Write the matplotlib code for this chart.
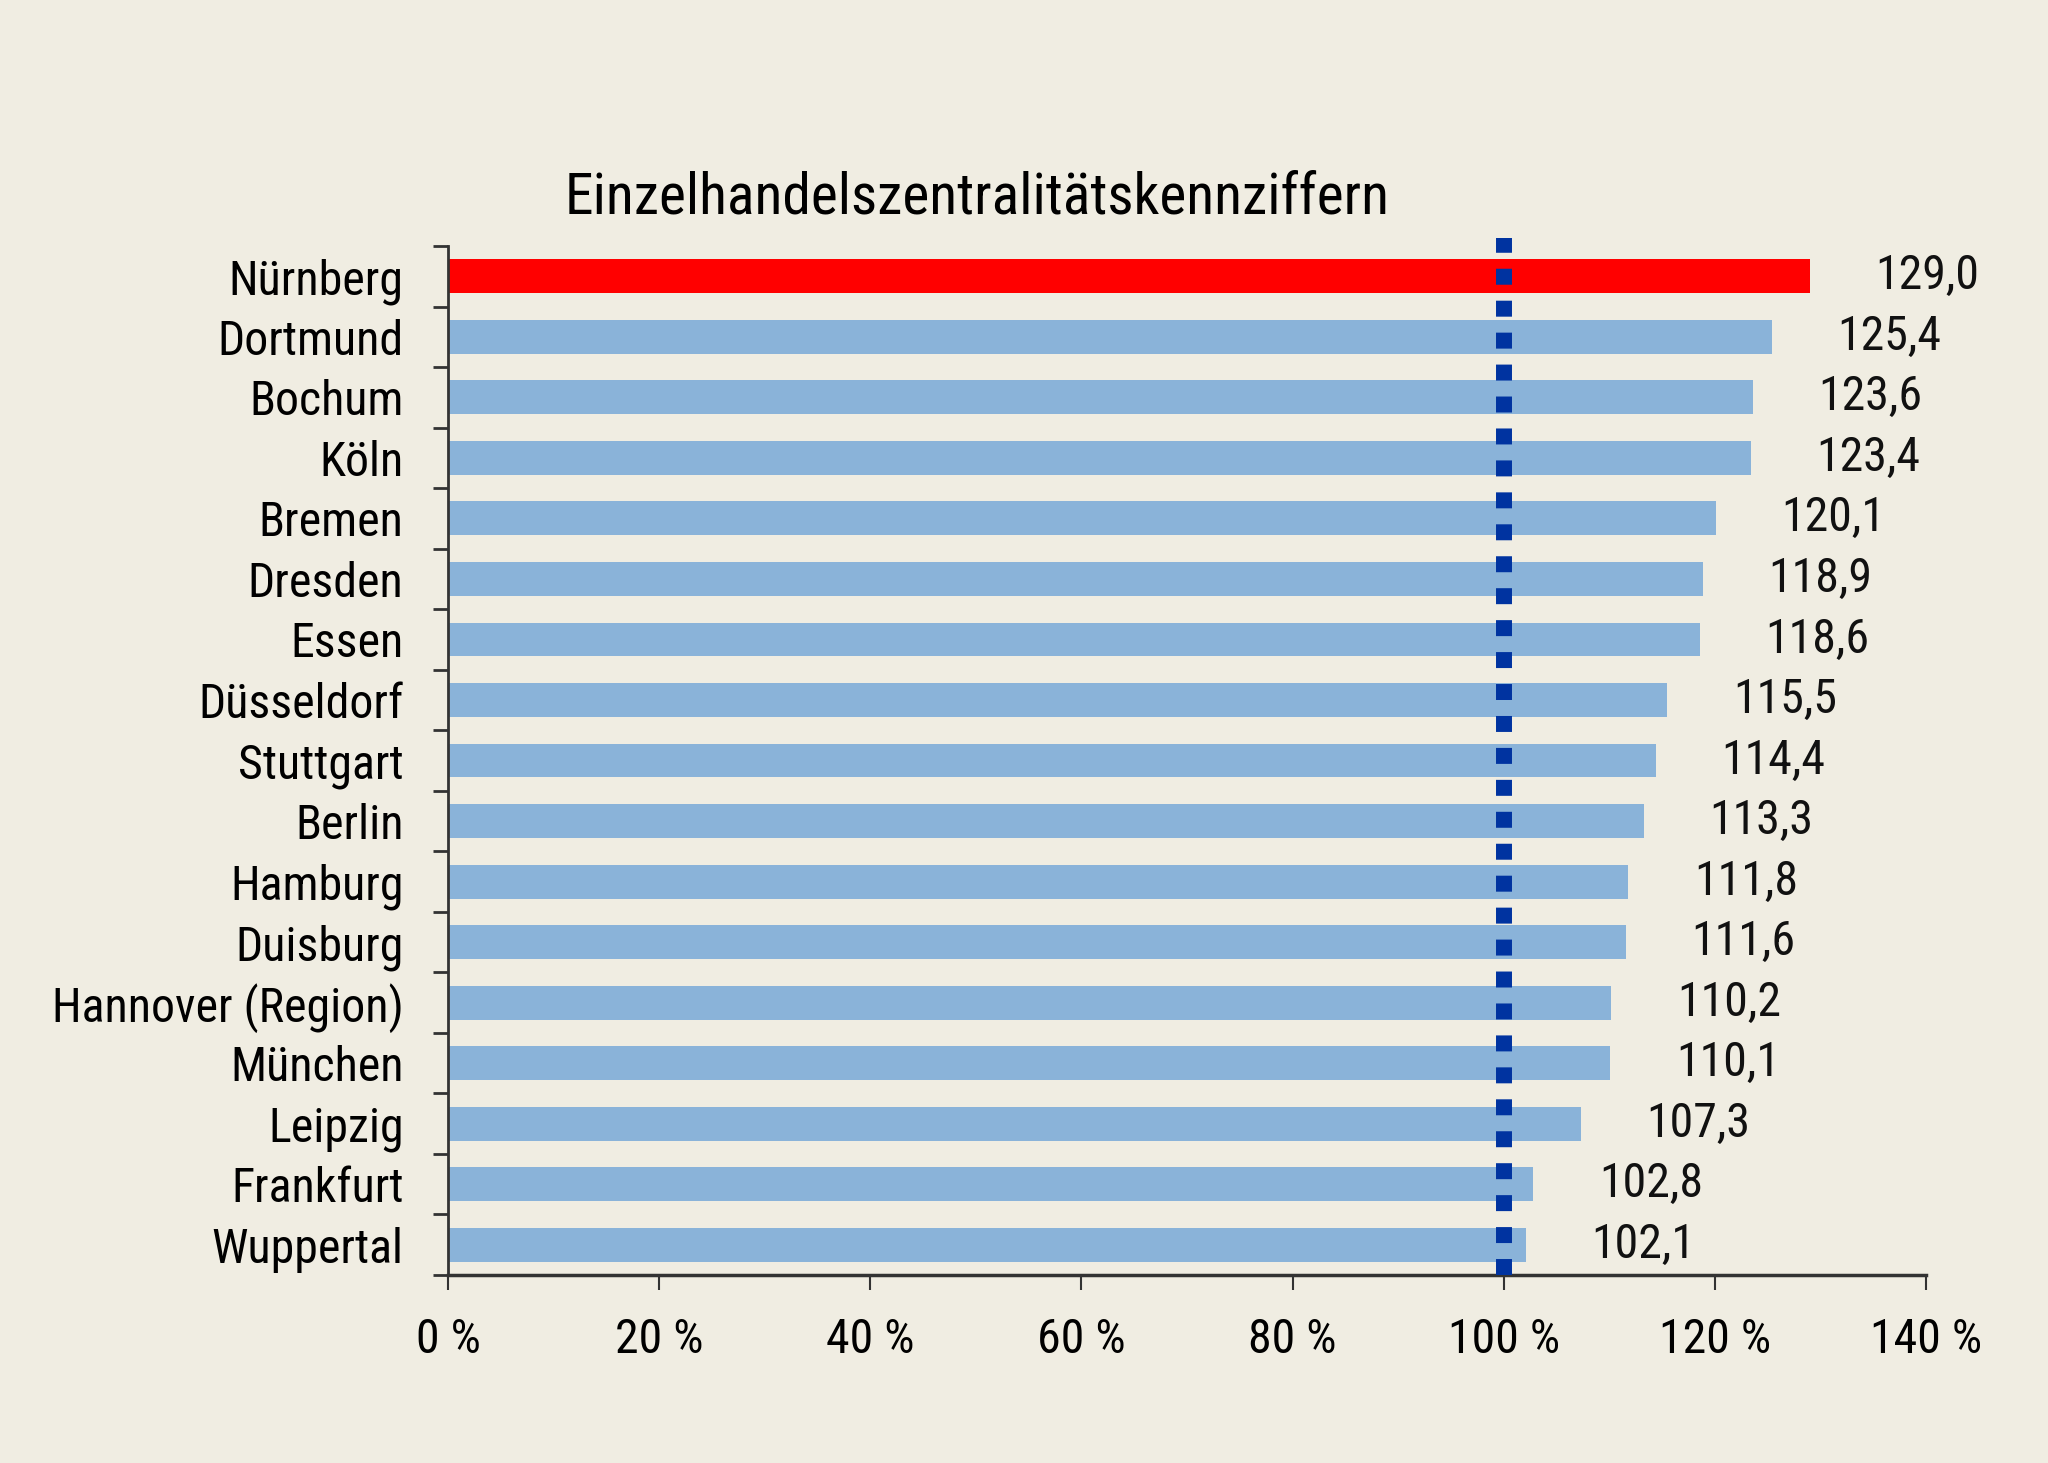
import matplotlib
matplotlib.use("Agg")
import matplotlib.pyplot as plt
from matplotlib import font_manager

staedte = ["Nürnberg", "Dortmund", "Bochum", "Köln", "Bremen", "Dresden", "Essen",
           "Düsseldorf", "Stuttgart", "Berlin", "Hamburg", "Duisburg",
           "Hannover (Region)", "München", "Leipzig", "Frankfurt", "Wuppertal"]
werte = [129.0, 125.4, 123.6, 123.4, 120.1, 118.9, 118.6, 115.5, 114.4, 113.3,
         111.8, 111.6, 110.2, 110.1, 107.3, 102.8, 102.1]
x_ticks = [0, 20, 40, 60, 80, 100, 120, 140]
x_labels = ["0 %", "20 %", "40 %", "60 %", "80 %", "100 %", "120 %", "140 %"]
titel = "Einzelhandelszentralitätskennziffern"

# schmale Schrift suchen, sonst Roboto
namen = {f.name for f in font_manager.fontManager.ttflist}
schrift = "Roboto"
for kandidat in ["Liberation Sans Narrow", "Roboto Condensed", "DejaVu Sans Condensed",
                 "Open Sans Condensed"]:
    if kandidat in namen:
        schrift = kandidat
        break
schmal = schrift != "Roboto"
plt.rcParams["font.family"] = [schrift, "DejaVu Sans"]
groesse = 34.5 if schmal else 27

hintergrund = "#F0EDE2"
fig = plt.figure(figsize=(20.48, 14.63), dpi=100, facecolor=hintergrund)
ax = fig.add_axes([0.21875, 0.1285, 0.7217, 0.7033])
ax.set_facecolor(hintergrund)

farben = ["#FF0000"] + ["#8AB3D9"] * (len(werte) - 1)
pos = list(range(len(werte)))
ax.barh(pos, werte, height=0.56, color=farben, zorder=2)

for p, w in zip(pos, werte):
    ax.text(w + 6.2, p, f"{w:.1f}".replace(".", ","), va="center", ha="left",
            fontsize=groesse, color="#111111")

# 100-%-Linie
ax.axvline(100, ymin=0, ymax=1.008, color="#0033A0", linewidth=11.5,
           linestyle=(0, (1, 1)), dash_capstyle="butt", clip_on=False, zorder=3)

ax.set_xlim(0, 140)
ax.set_ylim(len(werte) - 0.5, -0.5)
ax.set_xticks(x_ticks)
ax.set_xticklabels(x_labels, fontsize=groesse)
ax.set_yticks(pos)
ax.set_yticklabels(staedte, fontsize=groesse)
ax.set_yticks([p - 0.5 for p in pos] + [len(werte) - 0.5], minor=True)
ax.tick_params(axis="y", which="major", length=0, pad=32)
ax.tick_params(axis="y", which="minor", length=11, width=2, color="#333333")
ax.tick_params(axis="x", length=11, width=1.5, color="#333333", pad=19)

for s in ["top", "right"]:
    ax.spines[s].set_visible(False)
ax.spines["left"].set_linewidth(2)
ax.spines["bottom"].set_linewidth(2.5)
ax.spines["left"].set_color("#333333")
ax.spines["bottom"].set_color("#333333")

fig.text(0.477, 0.865, titel, ha="center", va="center", fontsize=groesse * 1.2)

fig.savefig("out.png", dpi=100, facecolor=hintergrund)
